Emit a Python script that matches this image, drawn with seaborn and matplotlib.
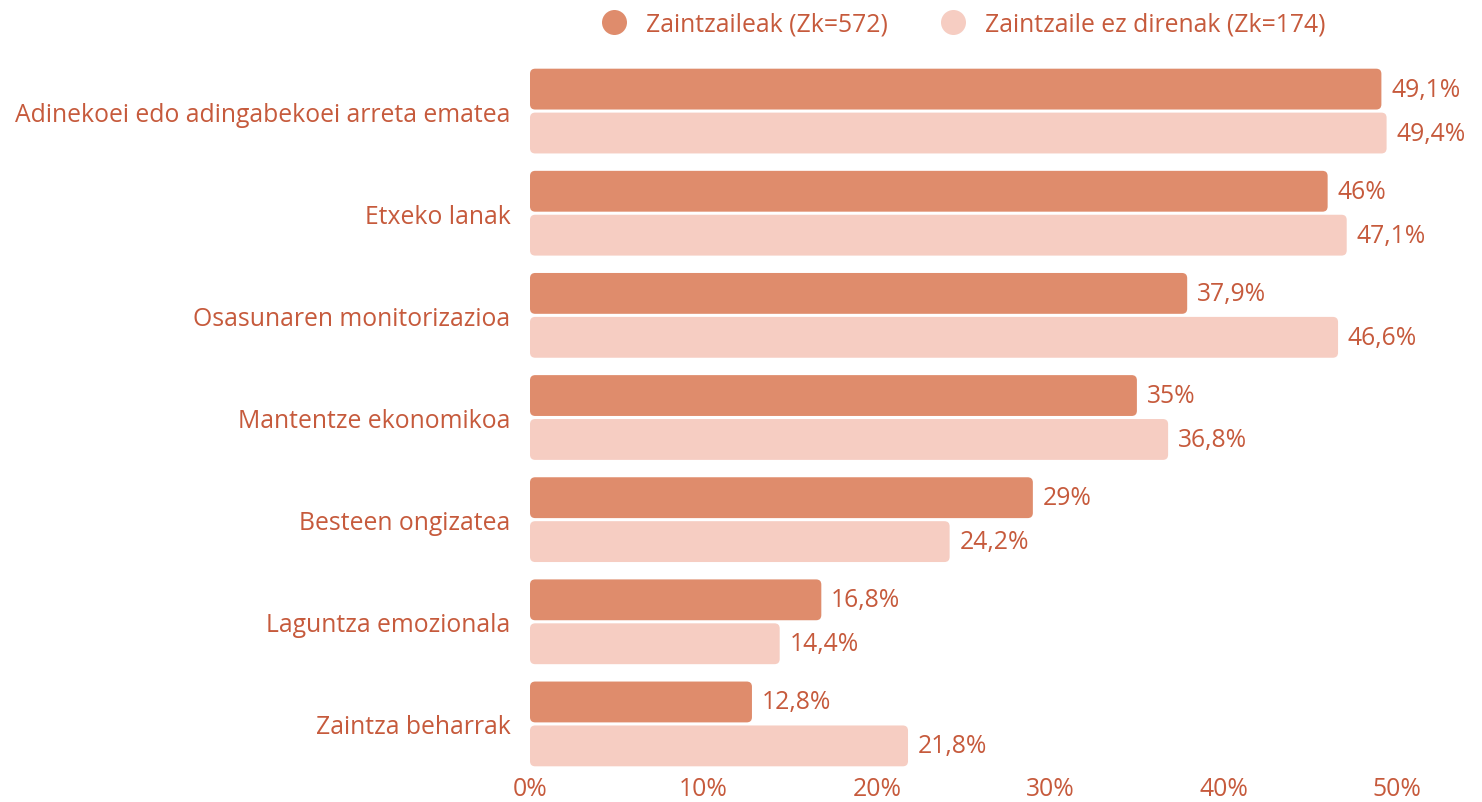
import numpy as np
import pandas as pd
import matplotlib
matplotlib.use('Agg')
import matplotlib.pyplot as plt
from matplotlib.patches import FancyBboxPatch
from matplotlib.lines import Line2D
import seaborn as sns

categories = ['Adinekoei edo adingabekoei arreta ematea', 'Etxeko lanak',
              'Osasunaren monitorizazioa', 'Mantentze ekonomikoa',
              'Besteen ongizatea', 'Laguntza emozionala', 'Zaintza beharrak']
series_names = ['Zaintzaileak (Zk=572)', 'Zaintzaile ez direnak (Zk=174)']
caregivers = [49.1, 46, 37.9, 35, 29, 16.8, 12.8]
non_caregivers = [49.4, 47.1, 46.6, 36.8, 24.2, 14.4, 21.8]
x_ticks = [0, 10, 20, 30, 40, 50]

dark = '#df8c6c'
light = '#f6cdc2'
text_color = '#c65a3c'
fs = 17.8

df = pd.DataFrame({
    'category': categories * 2,
    'group': [series_names[0]] * len(categories) + [series_names[1]] * len(categories),
    'value': caregivers + non_caregivers,
})

sns.set_style('white')
plt.rcParams['font.family'] = ['Open Sans', 'DejaVu Sans']

fig = plt.figure(figsize=(14.82, 8.03), dpi=100)
ax = fig.add_axes([530 / 1482, 1 - 776 / 803, 867 / 1482, 715 / 803])

sns.barplot(data=df, y='category', x='value', hue='group', orient='h',
            palette=[dark, light], saturation=1, width=0.86, gap=0.07,
            ax=ax, legend=False)

ax.set_xlim(0, 50)
ax.set_ylim(6.5, -0.5)

# swap plain bars for rounded ones
px_x = 867 / 50
px_y = 715 / 7
for cont in ax.containers:
    for p in cont.patches:
        x0, y0 = p.get_x(), p.get_y()
        w, h = p.get_width(), p.get_height()
        r = FancyBboxPatch((x0, y0), w, h,
                           boxstyle='round,pad=0,rounding_size=0.3',
                           mutation_aspect=px_x / px_y,
                           facecolor=p.get_facecolor(), edgecolor='none')
        ax.add_patch(r)
        p.set_visible(False)

def fmt(v):
    s = f'{v:.1f}'.rstrip('0').rstrip('.')
    return s.replace('.', ',') + '%'

for cont in ax.containers:
    ax.bar_label(cont, labels=[fmt(v) for v in cont.datavalues], padding=7,
                 color=text_color, fontsize=fs)

ax.set_xticks(x_ticks)
ax.set_xticklabels([f'{t}%' for t in x_ticks])
ax.tick_params(axis='both', length=0, labelsize=fs, labelcolor=text_color)
ax.tick_params(axis='y', pad=14)
ax.tick_params(axis='x', pad=1)
ax.set_xlabel('')
ax.set_ylabel('')
ax.grid(False)
sns.despine(ax=ax, left=True, bottom=True)

handles = [Line2D([], [], marker='o', linestyle='', markersize=18,
                  markerfacecolor=c, markeredgecolor='none') for c in [dark, light]]
leg = fig.legend(handles, series_names, loc='upper center', ncol=2,
                 bbox_to_anchor=(0.646, 1.012), frameon=False, fontsize=fs,
                 handletextpad=0.3, columnspacing=1.6)
for t in leg.get_texts():
    t.set_color(text_color)

fig.savefig('out.png', dpi=100)
